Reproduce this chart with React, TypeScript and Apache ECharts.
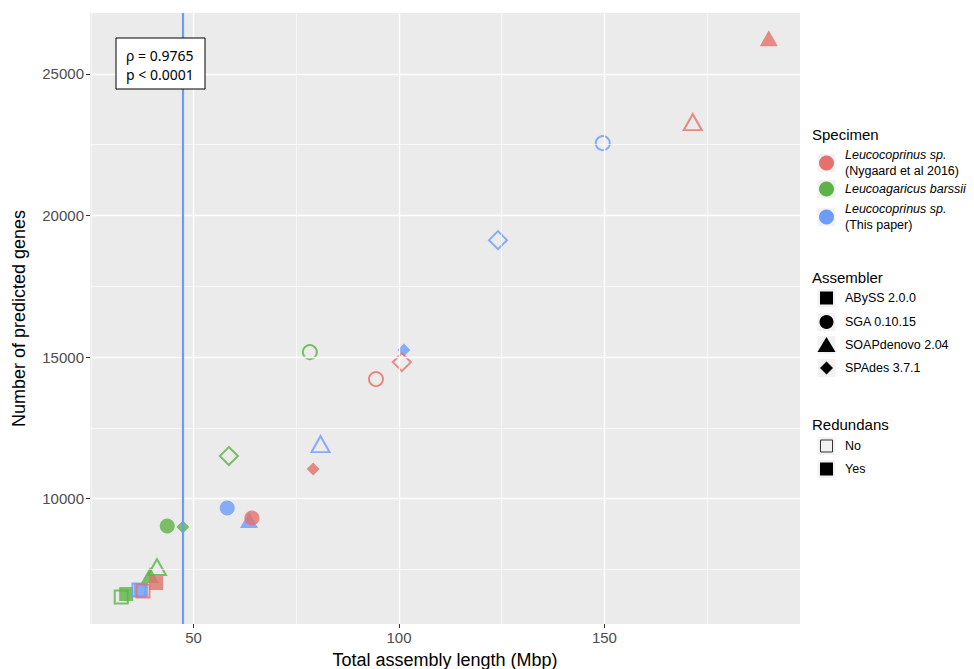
import React, { useEffect, useRef } from "react";
import * as echarts from "echarts";

// ---- Data ----
const assemblers = ["ABySS 2.0.0", "SGA 0.10.15", "SOAPdenovo 2.04", "SPAdes 3.7.1"];
const redundansLevels = ["No", "Yes"];

// Leucocoprinus sp. (Nygaard et al 2016)
const nygaardLenNo = [37.7, 94.4, 171.5, 100.7];
const nygaardGenesNo = [6734, 14220, 23295, 14820];
const nygaardLenYes = [40.9, 64.2, 190.0, 79.1];
const nygaardGenesYes = [7016, 9311, 26261, 11042];

// Leucoagaricus barssii
const barssiiLenNo = [32.4, 78.3, 41.1, 58.6];
const barssiiGenesNo = [6522, 15173, 7581, 11501];
const barssiiLenYes = [33.6, 43.6, 39.4, 47.4];
const barssiiGenesYes = [6628, 9029, 7299, 8994];

// Leucocoprinus sp. (This paper)
const thisLenNo = [36.7, 149.6, 80.9, 124.1];
const thisGenesNo = [6769, 22553, 11924, 19128];
const thisLenYes = [37.2, 58.2, 63.5, 101.2];
const thisGenesYes = [6769, 9665, 9241, 15244];

const xTicks = [50, 100, 150];
const xMinor = [25, 75, 125, 175];
const yTicks = [10000, 15000, 20000, 25000];
const yMinor = [7500, 12500, 17500, 22500];
const cutoffLength = 47.3;
const rhoText = "ρ = 0.9765";
const pText = "p < 0.0001";

const RED = "#E4716B";
const GREEN = "#5DB346";
const BLUE = "#6D9CF8";

const FONT = "'Liberation Sans', Arial, Helvetica, sans-serif";

const symbolOf = ["rect", "circle", "triangle", "diamond"];
const sizeFilled: any[] = [14, 15, [18, 16], 13];
const sizeOpen: any[] = [13, 14, [18, 16], 18];

function buildItems(lenNo: number[], gNo: number[], lenYes: number[], gYes: number[], color: string) {
  const items: any[] = [];
  for (let i = 0; i < assemblers.length; i++) {
    items.push({
      value: [lenNo[i], gNo[i]],
      name: assemblers[i] + " / " + redundansLevels[0],
      symbol: symbolOf[i],
      symbolSize: sizeOpen[i],
      itemStyle: { color: "rgba(0,0,0,0)", borderColor: color, borderWidth: 2 },
    });
  }
  for (let i = 0; i < assemblers.length; i++) {
    items.push({
      value: [lenYes[i], gYes[i]],
      name: assemblers[i] + " / " + redundansLevels[1],
      symbol: symbolOf[i],
      symbolSize: sizeFilled[i],
      itemStyle: { color: color, borderWidth: 0 },
    });
  }
  return items;
}

function legendGraphics() {
  const els: any[] = [];
  const tx = 845;
  const kx = 826.5;
  const title = (t: string, y: number) =>
    els.push({ type: "text", x: 812, y, style: { text: t, font: `15px ${FONT}`, fill: "#000", verticalAlign: "middle" } });
  const keyBg = (y: number) =>
    els.push({ type: "rect", shape: { x: kx - 9, y: y - 9, width: 18, height: 18 }, style: { fill: "#F2F2F2" } });
  const label = (t: string, y: number, italic = false) =>
    els.push({
      type: "text",
      x: tx,
      y,
      style: { text: t, font: `${italic ? "italic " : ""}12.5px ${FONT}`, fill: "#000", verticalAlign: "middle" },
    });

  title("Specimen", 134);
  const spec = [
    { c: RED, y: 163, l1: "Leucocoprinus sp.", l2: "(Nygaard et al 2016)" },
    { c: GREEN, y: 189, l1: "Leucoagaricus barssii", l2: "" },
    { c: BLUE, y: 217, l1: "Leucocoprinus sp.", l2: "(This paper)" },
  ];
  spec.forEach((s) => {
    keyBg(s.y);
    els.push({ type: "circle", shape: { cx: kx, cy: s.y, r: 7.5 }, style: { fill: s.c } });
    if (s.l2) {
      label(s.l1, s.y - 8, true);
      label(s.l2, s.y + 8, false);
    } else label(s.l1, s.y, true);
  });

  title("Assembler", 277);
  const ay = [298, 322, 345, 368];
  ay.forEach((y, i) => {
    keyBg(y);
    if (i === 0) els.push({ type: "rect", shape: { x: kx - 6.5, y: y - 6.5, width: 13, height: 13 }, style: { fill: "#000" } });
    if (i === 1) els.push({ type: "circle", shape: { cx: kx, cy: y, r: 7 }, style: { fill: "#000" } });
    if (i === 2)
      els.push({
        type: "polygon",
        shape: { points: [[kx, y - 8], [kx + 9, y + 7], [kx - 9, y + 7]] },
        style: { fill: "#000" },
      });
    if (i === 3)
      els.push({
        type: "polygon",
        shape: { points: [[kx, y - 6.5], [kx + 6.5, y], [kx, y + 6.5], [kx - 6.5, y]] },
        style: { fill: "#000" },
      });
    label(assemblers[i], y);
  });

  title("Redundans", 424);
  const ry = [446, 469];
  ry.forEach((y, i) => {
    keyBg(y);
    if (i === 0)
      els.push({
        type: "rect",
        shape: { x: kx - 6, y: y - 6, width: 12, height: 12 },
        style: { fill: "none", stroke: "#333", lineWidth: 1 },
      });
    else els.push({ type: "rect", shape: { x: kx - 6.5, y: y - 6.5, width: 13, height: 13 }, style: { fill: "#000" } });
    label(redundansLevels[i], y);
  });

  // annotation box
  els.push({
    type: "rect",
    shape: { x: 116, y: 38, width: 89, height: 51 },
    style: { fill: "#fff", stroke: "#000", lineWidth: 1 },
    z: 100,
  });
  els.push({ type: "text", x: 126, y: 55, z: 101, style: { text: rhoText, font: `14px 'Noto Sans', ${FONT}`, fill: "#000", verticalAlign: "middle" } });
  els.push({ type: "text", x: 126, y: 74, z: 101, style: { text: pText, font: `14px 'Noto Sans', ${FONT}`, fill: "#000", verticalAlign: "middle" } });
  return els;
}

export default function App() {
  const ref = useRef<HTMLDivElement>(null);
  useEffect(() => {
    if (!ref.current) return;
    document.body.style.margin = "0";
    const chart = echarts.init(ref.current, undefined, { renderer: "svg" });
    const gridLines: any[] = [
      ...xMinor.map((v) => ({ xAxis: v, lineStyle: { color: "#FFFFFF", width: 0.6, type: "solid" } })),
      ...yMinor.map((v) => ({ yAxis: v, lineStyle: { color: "#FFFFFF", width: 0.6, type: "solid" } })),
      ...xTicks.map((v) => ({ xAxis: v, lineStyle: { color: "#FFFFFF", width: 1.3, type: "solid" } })),
      ...yTicks.map((v) => ({ yAxis: v, lineStyle: { color: "#FFFFFF", width: 1.3, type: "solid" } })),
    ];
    chart.setOption({
      animation: false,
      grid: {
        left: 90,
        right: 174,
        top: 13,
        bottom: 45,
        show: true,
        backgroundColor: "#EBEBEB",
        borderWidth: 0,
        containLabel: false,
        outerBoundsMode: "none",
      },
      xAxis: {
        type: "value",
        min: 24.8,
        max: 197.6,
        name: "Total assembly length (Mbp)",
        nameLocation: "middle",
        nameGap: 27,
        nameTextStyle: { fontSize: 18, color: "#000", fontFamily: FONT },
        axisLine: { show: false },
        splitLine: { show: false },
        axisTick: { show: true, length: 4, lineStyle: { color: "#333" }, customValues: xTicks },
        axisLabel: {
          customValues: xTicks,
          fontSize: 15,
          color: "#4D4D4D",
          fontFamily: FONT,
          margin: 6,
          formatter: (v: number) => String(v),
        },
      },
      yAxis: {
        type: "value",
        min: 5570,
        max: 27150,
        name: "Number of predicted genes",
        nameLocation: "middle",
        nameGap: 62,
        nameTextStyle: { fontSize: 18, color: "#000", fontFamily: FONT },
        axisLine: { show: false },
        splitLine: { show: false },
        axisTick: { show: true, length: 4, lineStyle: { color: "#333" }, customValues: yTicks },
        axisLabel: {
          customValues: yTicks,
          fontSize: 15,
          color: "#4D4D4D",
          fontFamily: FONT,
          margin: 6,
          formatter: (v: number) => String(v),
        },
      },
      graphic: legendGraphics(),
      series: [
        {
          type: "scatter",
          data: [],
          z: 1,
          silent: true,
          markLine: { silent: true, symbol: ["none", "none"], label: { show: false }, animation: false, data: gridLines },
        },
        {
          type: "scatter",
          data: [],
          z: 2,
          silent: true,
          markLine: {
            silent: true,
            symbol: ["none", "none"],
            label: { show: false },
            animation: false,
            data: [{ xAxis: cutoffLength, lineStyle: { color: BLUE, width: 2.2, type: "solid" } }],
          },
        },
        {
          name: "Leucoagaricus barssii",
          type: "scatter",
          z: 3,
          data: buildItems(barssiiLenNo, barssiiGenesNo, barssiiLenYes, barssiiGenesYes, GREEN),
        },
        {
          name: "Leucocoprinus sp. (This paper)",
          type: "scatter",
          z: 3,
          data: buildItems(thisLenNo, thisGenesNo, thisLenYes, thisGenesYes, BLUE),
        },
        {
          name: "Leucocoprinus sp. (Nygaard et al 2016)",
          type: "scatter",
          z: 3,
          data: buildItems(nygaardLenNo, nygaardGenesNo, nygaardLenYes, nygaardGenesYes, RED),
        },
      ],
    });
    return () => chart.dispose();
  }, []);
  return <div ref={ref} style={{ width: 974, height: 669 }} />;
}
